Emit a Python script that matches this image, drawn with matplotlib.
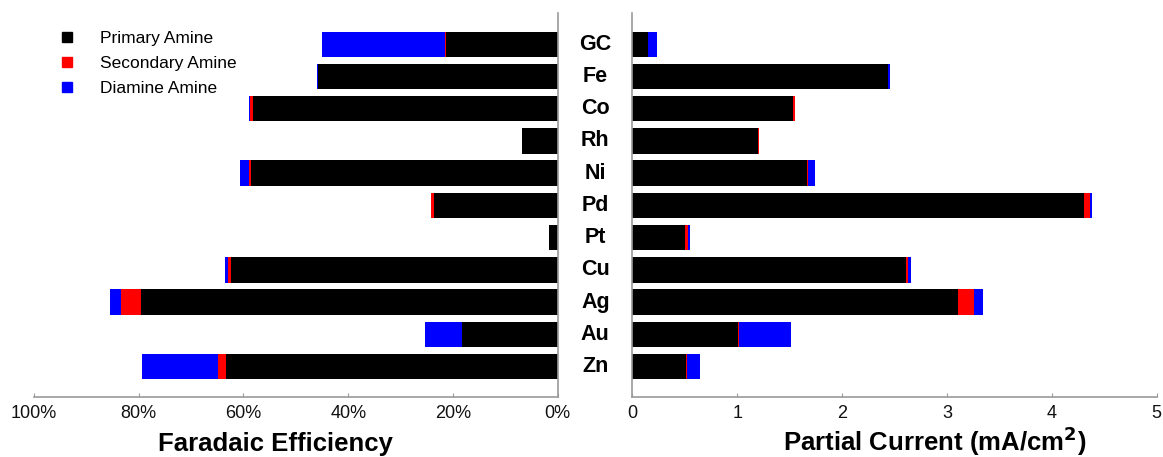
import matplotlib
matplotlib.use("Agg")
import matplotlib.pyplot as plt
import numpy as np
from matplotlib.lines import Line2D

plt.rcParams['font.family'] = ['Liberation Sans', 'DejaVu Sans']

categories = ["GC", "Fe", "Co", "Rh", "Ni", "Pd", "Pt", "Cu", "Ag", "Au", "Zn"]

# Faradaic efficiency (%)
fe_primary   = [21.4, 45.8, 58.2, 6.8, 58.5, 23.7, 1.7, 62.4, 79.6, 18.2, 63.3]
fe_secondary = [0.1, 0.0, 0.5, 0.0, 0.4, 0.4, 0.0, 0.6, 3.8, 0.1, 1.5]
fe_diamine   = [23.5, 0.2, 0.25, 0.0, 1.8, 0.0, 0.0, 0.6, 2.0, 7.0, 14.6]

# Partial current (mA/cm^2)
pc_primary   = [0.15, 2.44, 1.53, 1.20, 1.67, 4.31, 0.50, 2.61, 3.11, 1.01, 0.51]
pc_secondary = [0.0, 0.0, 0.02, 0.01, 0.01, 0.05, 0.03, 0.02, 0.145, 0.005, 0.01]
pc_diamine   = [0.085, 0.015, 0.005, 0.0, 0.06, 0.02, 0.02, 0.03, 0.085, 0.495, 0.13]

series_names = ["Primary Amine", "Secondary Amine", "Diamine Amine"]
colors = ["#000000", "#ff0000", "#0000ff"]

fe_ticks = [100, 80, 60, 40, 20, 0]
fe_ticklabels = ["100%", "80%", "60%", "40%", "20%", "0%"]
pc_ticks = [0, 1, 2, 3, 4, 5]

W, H = 1163, 457
fig = plt.figure(figsize=(W / 100, H / 100), dpi=100)

ax_l = fig.add_axes([34 / W, 1 - 397 / H, (557.7 - 34) / W, (397 - 13.3) / H])
ax_r = fig.add_axes([632.3 / W, 1 - 397 / H, (1156.7 - 632.3) / W, (397 - 13.3) / H])

ypos = np.arange(len(categories))[::-1]
bh = 0.79

def stack(ax, series):
    left = np.zeros(len(categories))
    for vals, c in zip(series, colors):
        v = np.array(vals, dtype=float)
        ax.barh(ypos, v, left=left, height=bh, color=c, edgecolor='none')
        left = left + v

stack(ax_l, [fe_primary, fe_secondary, fe_diamine])
stack(ax_r, [pc_primary, pc_secondary, pc_diamine])

spine_col = "#9a9a9a"
for ax in (ax_l, ax_r):
    ax.set_ylim(-0.94, 10.96)
    ax.set_yticks([])
    ax.spines['top'].set_visible(False)
    for s in ax.spines.values():
        s.set_color(spine_col)
        s.set_linewidth(1.2)
    ax.tick_params(axis='x', direction='in', length=3, color=spine_col,
                   labelsize=13, pad=6, labelcolor='#111111')

ax_l.set_xlim(100, 0)
ax_l.spines['left'].set_visible(False)
ax_l.set_xticks(fe_ticks)
ax_l.set_xticklabels(fe_ticklabels)

ax_r.set_xlim(0, 5)
ax_r.spines['right'].set_visible(False)
ax_r.set_xticks(pc_ticks)
ax_r.set_xticklabels([str(t) for t in pc_ticks])

# axis titles
fig.text(275 / W, 1 - 451 / H, "Faradaic Efficiency", ha='center', va='baseline',
         fontsize=18.5, fontweight='bold')
fig.text(935 / W, 1 - 451 / H, "Partial Current (mA/cm$^{\\mathbf{2}}$)", ha='center',
         va='baseline', fontsize=18.5, fontweight='bold')

# category labels centered between the two panels
for yp, cat in zip(ypos, categories):
    ax_r.annotate(cat, xy=(0, yp), xycoords=('axes fraction', 'data'),
                  xytext=(-37, 0), textcoords='offset pixels',
                  ha='center', va='center', fontsize=15.5, fontweight='bold')

handles = [Line2D([0], [0], marker='s', linestyle='none', markersize=6.5,
                  markerfacecolor=c, markeredgecolor=c) for c in colors]
fig.legend(handles, series_names, loc='upper left', bbox_to_anchor=(43 / W, 1 - 15.5 / H),
           frameon=False, fontsize=12.5, handletextpad=1.4, labelspacing=0.55,
           handlelength=1.0, borderpad=0.4)

fig.savefig("out.png", dpi=100)
